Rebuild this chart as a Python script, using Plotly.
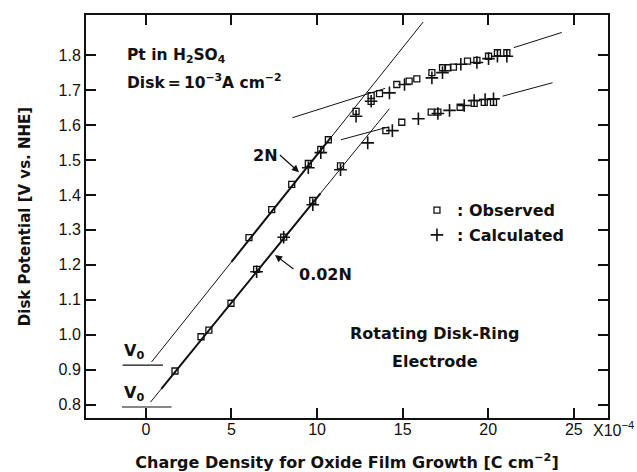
import plotly.graph_objects as go

# Charge density (x10^-4 C cm^-2) and disk potential (V vs. NHE)
obs_2n_q = [6.02, 7.35, 8.52, 9.49, 10.22, 10.66, 12.28, 13.16, 13.16, 13.65, 14.66, 15.38,
            15.83, 16.71, 17.33, 17.64, 17.97, 18.79, 19.34, 20.02, 20.54, 21.09]
obs_2n_v = [1.278, 1.358, 1.430, 1.490, 1.530, 1.558, 1.639, 1.684, 1.668, 1.690, 1.716, 1.726,
            1.732, 1.750, 1.764, 1.764, 1.766, 1.783, 1.785, 1.797, 1.807, 1.807]
calc_2n_q = [9.49, 10.22, 12.28, 13.16, 14.23, 15.11, 16.71, 17.33, 18.40, 19.34, 20.02, 20.54, 21.09]
calc_2n_v = [1.478, 1.521, 1.625, 1.668, 1.692, 1.716, 1.735, 1.750, 1.774, 1.779, 1.790, 1.797, 1.797]

obs_002n_q = [1.70, 3.22, 3.68, 4.97, 6.47, 8.05, 9.75, 11.37, 14.02, 14.95, 16.67, 17.06,
              18.36, 19.18, 19.77, 20.31]
obs_002n_v = [0.896, 0.994, 1.013, 1.090, 1.187, 1.279, 1.384, 1.483, 1.584, 1.608, 1.637, 1.637,
              1.651, 1.662, 1.665, 1.665]
calc_002n_q = [6.47, 8.05, 9.75, 11.37, 12.96, 14.40, 15.92, 17.06, 17.74, 18.60, 19.18, 19.82, 20.31]
calc_002n_v = [1.180, 1.279, 1.372, 1.472, 1.549, 1.584, 1.618, 1.633, 1.642, 1.656, 1.670, 1.673, 1.675]

# Fitted straight lines (end points)
lin_2n_q, lin_2n_v = [0.33, 16.2], [0.922, 1.895]
lin_002n_q, lin_002n_v = [0.27, 14.23], [0.807, 1.647]
thick_2n_q = [5.0, 10.8]
thick_002n_q = [0.9, 10.2]
plat_2n_q = [[8.56, 13.98], [21.5, 24.3]]
plat_2n_slope, plat_2n_ref = 0.0155, (8.56, 1.621)
plat_002n_q = [[11.4, 14.2], [20.84, 23.76]]
plat_002n_slope, plat_002n_ref = 0.0132, (11.4, 1.558)

# Open-circuit potentials V0
v0_2n, v0_2n_span = 0.913, [-1.36, 1.0]
v0_002n, v0_002n_span = 0.793, [-1.4, 1.5]

x_ticks = [0, 5, 10, 15, 20, 25]
y_ticks = [0.8, 0.9, 1.0, 1.1, 1.2, 1.3, 1.4, 1.5, 1.6, 1.7, 1.8]

TICK_FONT = "Liberation Sans, Arial, sans-serif"
LABEL_FONT = "DejaVu Sans, Verdana, sans-serif"
BLACK = "#111111"


def on_line(q0, q1, v0, v1, q):
    return v0 + (v1 - v0) * (q - q0) / (q1 - q0)


fig = go.Figure()


def add_line(xs, ys, width=1.0):
    fig.add_trace(go.Scatter(x=xs, y=ys, mode="lines", line=dict(color=BLACK, width=width),
                             showlegend=False, hoverinfo="skip"))


# main linear regions
add_line(lin_2n_q, lin_2n_v, 1.0)
add_line(lin_002n_q, lin_002n_v, 1.0)
add_line(thick_2n_q, [on_line(*lin_2n_q, *lin_2n_v, q) for q in thick_2n_q], 2.0)
add_line(thick_002n_q, [on_line(*lin_002n_q, *lin_002n_v, q) for q in thick_002n_q], 2.0)

# plateau tangents
for seg in plat_2n_q:
    add_line(seg, [plat_2n_ref[1] + plat_2n_slope * (q - plat_2n_ref[0]) for q in seg], 1.0)
for seg in plat_002n_q:
    add_line(seg, [plat_002n_ref[1] + plat_002n_slope * (q - plat_002n_ref[0]) for q in seg], 1.0)

# V0 markers
add_line(v0_2n_span, [v0_2n, v0_2n], 1.2)
add_line(v0_002n_span, [v0_002n, v0_002n], 1.2)

sq = dict(symbol="square-open", size=6, color=BLACK, line=dict(width=1.3, color=BLACK))
pl = dict(symbol="cross-thin-open", size=9, color=BLACK, line=dict(width=1.6, color=BLACK))

fig.add_trace(go.Scatter(x=obs_2n_q, y=obs_2n_v, mode="markers", marker=sq,
                         name="<b>: Observed</b>", legendgroup="obs", showlegend=True))
fig.add_trace(go.Scatter(x=obs_002n_q, y=obs_002n_v, mode="markers", marker=sq,
                         name="<b>: Observed</b>", legendgroup="obs", showlegend=False))
fig.add_trace(go.Scatter(x=calc_2n_q, y=calc_2n_v, mode="markers", marker=pl,
                         name="<b>: Calculated</b>", legendgroup="calc", showlegend=True))
fig.add_trace(go.Scatter(x=calc_002n_q, y=calc_002n_v, mode="markers", marker=pl,
                         name="<b>: Calculated</b>", legendgroup="calc", showlegend=False))

ann = []


def text(x, y, s, xanchor="left", yanchor="middle", size=16):
    ann.append(dict(x=x, y=y, xref="x", yref="y", text=s, showarrow=False,
                    xanchor=xanchor, yanchor=yanchor,
                    font=dict(family=LABEL_FONT, size=size, color=BLACK)))


text(-1.25, 1.797, "<b>Pt in H<sub>2</sub>SO<sub>4</sub></b>", size=15.5)
text(-1.25, 1.725, "<b>Disk\u2009=\u200910<sup>−3</sup>A cm<sup>−2</sup></b>", size=15.5)
text(-1.38, v0_2n + 0.004, "<b>V<sub>0</sub></b>", yanchor="bottom")
text(-1.38, v0_002n + 0.004, "<b>V<sub>0</sub></b>", yanchor="bottom")
text(6.96, 1.513, "<b>2N</b>", xanchor="center")
text(8.85, 1.171, "<b>0.02N</b>")
text(16.9, 1.003, "<b>Rotating Disk-Ring</b>", xanchor="center")
text(16.9, 0.922, "<b>Electrode</b>", xanchor="center")
ann.append(dict(x=1.0, y=0, xref="paper", yref="paper", text="X10<sup>−4</sup>", showarrow=False,
                xanchor="left", yanchor="top", xshift=-17, yshift=1,
                font=dict(family=TICK_FONT, size=16, color=BLACK)))

# arrows pointing to each line
ann.append(dict(x=8.95, y=1.465, ax=7.74, ay=1.518, xref="x", yref="y", axref="x", ayref="y",
                text="", showarrow=True, arrowhead=2, arrowsize=1.2, arrowwidth=1.2,
                arrowcolor=BLACK))
ann.append(dict(x=7.54, y=1.228, ax=8.71, ay=1.185, xref="x", yref="y", axref="x", ayref="y",
                text="", showarrow=True, arrowhead=2, arrowsize=1.2, arrowwidth=1.2,
                arrowcolor=BLACK))

axis_common = dict(showgrid=False, zeroline=False, showline=True, linecolor=BLACK, linewidth=2,
                   mirror="ticks", ticks="inside", ticklen=10, tickwidth=1.5, tickcolor=BLACK,
                   automargin=False, tickfont=dict(family=TICK_FONT, size=16, color=BLACK))

fig.update_layout(
    width=637, height=472,
    margin=dict(l=86, r=29, t=15, b=54),
    paper_bgcolor="white", plot_bgcolor="white",
    showlegend=True,
    legend=dict(x=0.634, y=0.558, xanchor="left", yanchor="top", bgcolor="rgba(0,0,0,0)",
                font=dict(family=LABEL_FONT, size=16, color=BLACK), tracegroupgap=1,
                itemwidth=30),
    xaxis=dict(range=[-3.5, 27.0], tickvals=x_ticks, ticklabelstandoff=-4, **axis_common,
               title=dict(text="<b>Charge Density for Oxide Film Growth [C cm<sup>−2</sup>]</b>",
                          font=dict(family=LABEL_FONT, size=16, color=BLACK), standoff=21)),
    yaxis=dict(range=[0.7615, 1.915], tickvals=y_ticks, tickformat=".1f", **axis_common,
               title=dict(text="<b>Disk Potential [V vs. NHE]</b>",
                          font=dict(family=LABEL_FONT, size=15, color=BLACK), standoff=24)),
    annotations=ann,
)

fig.write_html("out.html")
